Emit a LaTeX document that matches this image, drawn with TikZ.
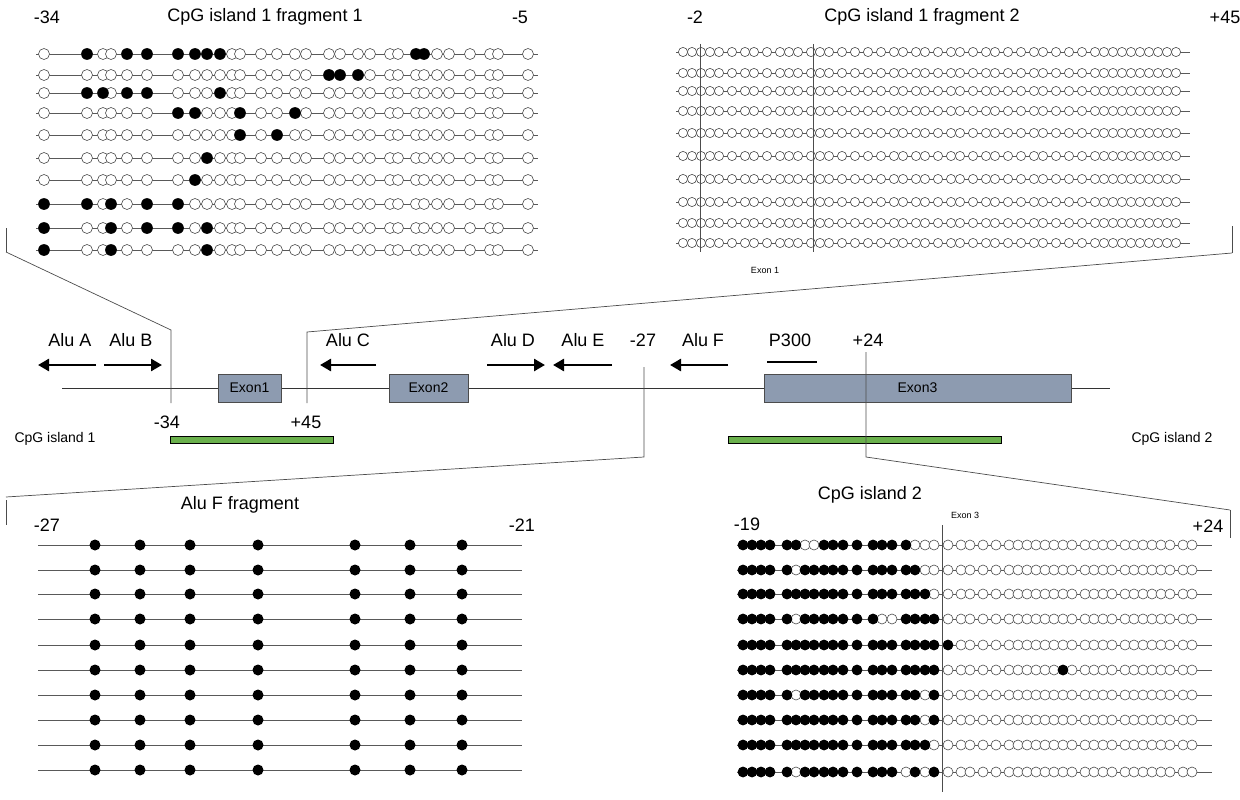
\documentclass[tikz,border=0pt]{standalone}
\usepackage{fontspec}
\setmainfont{Liberation Sans}
\usetikzlibrary{arrows.meta}
\begin{document}
\begin{tikzpicture}[x=1pt,y=-1pt,
  lbl/.style={font=\fontsize{18}{18}\selectfont,inner sep=0pt},
  slbl/.style={font=\fontsize{14}{14}\selectfont,inner sep=0pt},
  tlbl/.style={font=\fontsize{9}{9}\selectfont,inner sep=0pt},
  strand/.style={draw=black!65,line width=0.8pt},
  opn/.style={draw=black!70,fill=white,line width=0.6pt},
  met/.style={fill=black},
  exon/.style={draw=black!70,fill={rgb,255:red,141;green,155;blue,176},line width=0.6pt},
  cpg/.style={draw=black,fill={rgb,255:red,106;green,176;blue,76},line width=0.8pt},
  alu/.style={line width=2.6pt,-{Triangle[length=11pt,width=12pt]}},
  guide/.style={draw=black!70,line width=0.7pt}]
\useasboundingbox (0,0) rectangle (1240,800);

% ---------- top-left panel ----------
\def\TLx{{44,87,103,111,127,147,178,195,207,220,232,240,261,277,295,306,329,340,358,370,390,398,416,424,437,449,470,490,498,528}}
\foreach \y/\f in {54/{1,4,5,6,7,8,9,22,23},75/{16,17,18},93/{1,2,4,5,9},113/{6,7,11,14},135/{11,13},158/{8},180/{7},204/{0,1,3,5,6},228/{0,3,5,6,8},250/{0,3,8}}{
  \draw[strand] (36,\y) -- (538,\y);
  \foreach \i in {0,...,29}{\pgfmathsetmacro\xx{\TLx[\i]}\draw[opn] (\xx,\y) circle (5.5);}
  \foreach \i in \f{\pgfmathsetmacro\xx{\TLx[\i]}\fill[met] (\xx,\y) circle (5.8);}
}
\node[lbl] (tl1) at (47,17) {-34};
\node[lbl] (tl2) at (265,17) {CpG island 1 fragment 1};
\node[lbl] (tl3) at (520,17) {-5};

% ---------- top-right panel ----------
\def\TRx{683,692,701,710,719,732,745,754,767,780,789,798,811,820,829,842,855,868,881,894,903,916,925,938,951,960,973,986,995,1008,1021,1034,1043,1056,1069,1082,1095,1104,1113,1122,1131,1140,1149,1158,1167,1176}
\foreach \y in {52,73,91,111,133,156,179,202,223,243}{
  \draw[strand] (676,\y) -- (1190,\y);
  \foreach \x in \TRx {\draw[opn] (\x,\y) circle (4.6);}
}
\draw[guide] (700,44) -- (700,252);
\draw[guide] (813,44) -- (813,252);
\node[tlbl] (ex1) at (765,270) {Exon 1};
\node[lbl] (tr1) at (695,17) {-2};
\node[lbl] (tr2) at (922,17) {CpG island 1 fragment 2};
\node[lbl] (tr3) at (1225,17) {+45};

% ---------- bottom-left panel ----------
\foreach \y in {545,570,594,619,645,670,695,720,745,770}{
  \draw[strand] (38,\y) -- (522,\y);
  \foreach \x in {95,140,190,258,355,410,462}{\fill[met] (\x,\y) circle (5.5);}
}
\node[lbl] (bl1) at (47,525) {-27};
\node[lbl] (bl2) at (240,505) {Alu F fragment};
\node[lbl] (bl3) at (522,525) {-21};

% ---------- bottom-right panel ----------
\def\BRx{{743,752,761,770,787,796,805,814,824,833,843,857,873,882,892,906,915,925,934,948,961,970,983,996,1009,1018,1027,1036,1045,1054,1063,1072,1085,1094,1103,1112,1125,1134,1143,1152,1161,1170,1183,1192}}
\foreach \y/\f in {
 545/{0,1,2,3,4,5,8,9,10,11,12,13,14,15},
 570/{0,1,2,3,4,6,7,8,9,10,11,12,13,14,15,16},
 594/{0,1,2,3,4,5,6,7,8,9,10,11,12,13,14,15,16,17},
 619/{0,1,2,3,4,6,7,8,9,10,11,12,15,16,17,18},
 645/{0,1,2,3,4,5,6,7,8,9,10,11,12,13,14,15,16,17,18,19},
 670/{0,1,2,3,4,5,6,7,8,9,10,11,12,13,14,15,16,17,18,30},
 695/{0,1,2,3,4,6,7,8,9,10,11,12,13,14,15,16,18},
 720/{0,1,2,3,4,5,6,7,8,9,10,11,12,13,14,15,16,18},
 745/{0,1,2,3,4,5,6,7,8,9,10,11,12,13,14,15,16,17},
 772/{0,1,2,3,4,6,7,8,9,10,11,12,13,14,16,18}}{
  \draw[strand] (737,\y) -- (1212,\y);
  \foreach \i in {0,...,43}{\pgfmathsetmacro\xx{\BRx[\i]}\draw[opn] (\xx,\y) circle (5);}
  \foreach \i in \f{\pgfmathsetmacro\xx{\BRx[\i]}\fill[met] (\xx,\y) circle (5.3);}
}
\draw[guide] (942,525) -- (942,792);
\node[tlbl] (ex3) at (965,515) {Exon 3};
\node[lbl] (br1) at (870,495) {CpG island 2};
\node[lbl] (br2) at (747,524) {-19};
\node[lbl] (br3) at (1208,526) {+24};

% ---------- gene map ----------
\draw[strand,draw=black!80] (62,388) -- (1110,388);
\node[exon,minimum width=63pt,minimum height=28pt,inner sep=0pt,font=\fontsize{14}{14}\selectfont] (e1) at (249.5,388) {Exon1};
\node[exon,minimum width=79pt,minimum height=28pt,inner sep=0pt,font=\fontsize{14}{14}\selectfont] (e2) at (428.5,388) {Exon2};
\node[exon,minimum width=307pt,minimum height=28pt,inner sep=0pt,font=\fontsize{14}{14}\selectfont] (e3) at (917.5,388) {Exon3};
\node[cpg,minimum width=163pt,minimum height=7pt,inner sep=0pt] (c1) at (251.5,440) {};
\node[cpg,minimum width=273pt,minimum height=7pt,inner sep=0pt] (c2) at (864.5,440) {};
\node[slbl] (cl1) at (55,439) {CpG island 1};
\node[slbl] (cl2) at (1172,439) {CpG island 2};
\node[lbl] (m34) at (167,422) {-34};
\node[lbl] (p45) at (306,422) {+45};

\foreach \n/\a/\b/\lx/\t in {aA/96/38/70/Alu A,aB/104/162/131/Alu B,aC/376/320/348/Alu C,aD/487/545/513/Alu D,aE/612/553/583/Alu E,aF/728/670/703/Alu F}{
  \coordinate (\n s) at (\a,365); \coordinate (\n e) at (\b,365);
  \draw[alu] (\n s) -- (\n e);
  \node[lbl] (\n l) at (\lx,340) {\t};
}
\coordinate (pa) at (767,362); \coordinate (pb) at (817,362);
\draw[line width=1.2pt] (pa) -- (pb);
\node[lbl] (p300) at (790,340) {P300};
\node[lbl] (m27) at (643,340) {-27};
\node[lbl] (p24) at (868,340) {+24};

% ---------- guide lines ----------
\coordinate (g1t) at (171,330); \coordinate (g1b) at (171,403); \coordinate (g1e) at (6,252);
\draw[guide] (g1b) -- (g1t) -- (g1e);
\draw[guide] (6,228) -- (g1e);
\coordinate (g2t) at (307,332); \coordinate (g2b) at (307,403); \coordinate (g2e) at (1232,253);
\draw[guide] (g2b) -- (g2t) -- (g2e);
\draw[guide] (1232,226) -- (g2e);
\coordinate (g3t) at (644,367); \coordinate (g3b) at (644,457); \coordinate (g3e) at (6,497);
\draw[guide] (g3t) -- (g3b) -- (g3e);
\draw[guide] (g3e) ++(0,3) -- (6,525);
\coordinate (g4t) at (866,352); \coordinate (g4b) at (866,457); \coordinate (g4e) at (1230,510);
\draw[guide] (g4t) -- (g4b) -- (g4e);
\draw[guide] (g4e) -- (1230,538);
\end{tikzpicture}
\end{document}
